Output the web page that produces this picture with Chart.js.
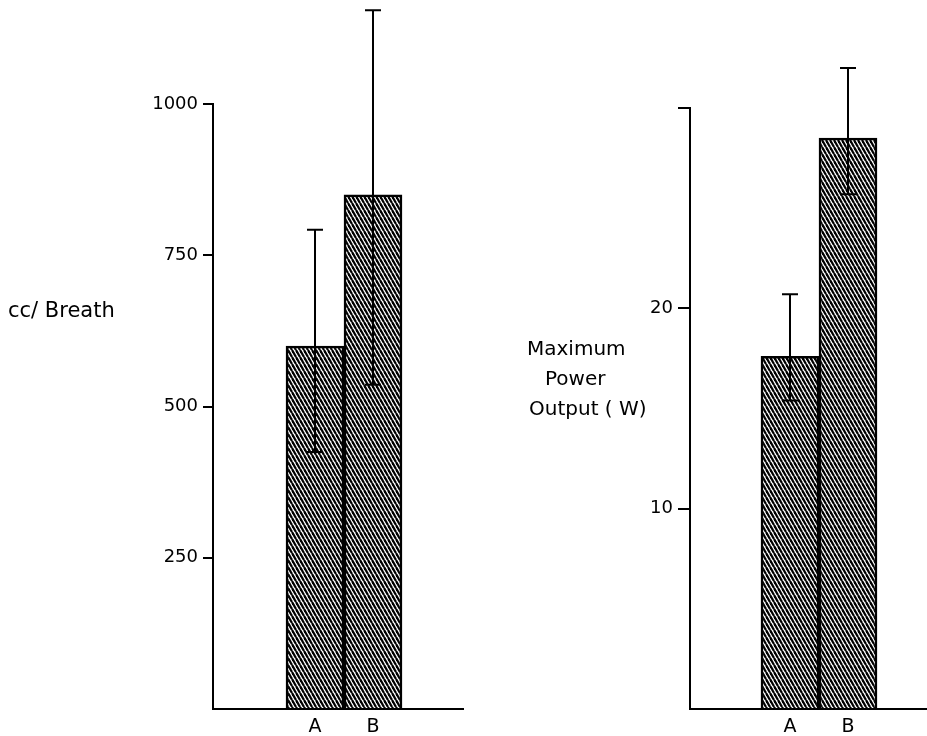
<!DOCTYPE html>
<html>
<head>
<meta charset="utf-8">
<script src="https://cdn.jsdelivr.net/npm/chart.js@4/dist/chart.umd.min.js"></script>
<style>
  html, body { margin: 0; padding: 0; background: #fff; }
  #wrap { position: relative; width: 927px; height: 736px; }
  .box { position: absolute; top: 0; height: 736px; }
  #left { left: 0; width: 470px; }
  #right { left: 470px; width: 457px; }
</style>
</head>
<body>
<div id="wrap">
  <div class="box" id="left"><canvas id="breathChart"></canvas></div>
  <div class="box" id="right"><canvas id="powerChart"></canvas></div>
</div>
<script>
// groups on the x axis
const categories = ["A", "B"];

// left panel: tidal volume, cc per breath
const breathMeans = [600, 850];
const breathHigh = [792, 1155];
const breathLow = [425, 536];
const breathTicks = [250, 500, 750, 1000];

// right panel: maximum power output, W
const powerMeans = [17.6, 28.5];
const powerHigh = [20.7, 32.0];
const powerLow = [15.4, 25.7];
const powerTicks = [10, 20];

const FONT = "DejaVu Sans";
const INK = "#000";

// diagonal hatch like the original print
function makeHatch() {
  const w = 4, h = 7;
  const c = document.createElement("canvas");
  c.width = w;
  c.height = h;
  const g = c.getContext("2d");
  g.fillStyle = "#fff";
  g.fillRect(0, 0, w, h);
  g.strokeStyle = "#000";
  g.lineWidth = 2.3;
  [-w, 0, w].forEach((dx) => {
    g.beginPath();
    g.moveTo(dx, 0);
    g.lineTo(dx + w, h);
    g.stroke();
  });
  return g.createPattern(c, "repeat");
}

// draws the error bars from the high / low arrays
const errorBars = {
  id: "errorBars",
  afterDatasetsDraw(chart, args, opts) {
    const ctx = chart.ctx;
    const meta = chart.getDatasetMeta(0);
    const y = chart.scales.y;
    ctx.save();
    ctx.strokeStyle = INK;
    ctx.lineWidth = 2;
    meta.data.forEach((bar, i) => {
      const x = bar.x;
      const top = y.getPixelForValue(opts.high[i]);
      const bot = y.getPixelForValue(opts.low[i]);
      ctx.beginPath();
      ctx.moveTo(x, top);
      ctx.lineTo(x, bot);
      ctx.moveTo(x - 8, top);
      ctx.lineTo(x + 8, top);
      ctx.moveTo(x - 8, bot);
      ctx.lineTo(x + 8, bot);
      ctx.stroke();
    });
    ctx.restore();
  },
};

// horizontal axis titles, placed left of the y axis
const sideTitle = {
  id: "sideTitle",
  afterDraw(chart, args, opts) {
    const ctx = chart.ctx;
    ctx.save();
    ctx.fillStyle = INK;
    ctx.font = opts.size + "px '" + FONT + "'";
    ctx.textAlign = "left";
    ctx.textBaseline = "middle";
    opts.lines.forEach((l) => ctx.fillText(l.text, l.x, l.y));
    ctx.restore();
  },
};

function buildChart(el, cfg) {
  const hatch = makeHatch();
  return new Chart(el, {
    type: "bar",
    data: {
      datasets: [
        {
          data: cfg.means.map((v, i) => ({ x: i + 1, y: v })),
          backgroundColor: hatch,
          borderColor: INK,
          borderWidth: 2.5,
          barPercentage: 1,
          categoryPercentage: 1,
        },
      ],
    },
    options: {
      responsive: true,
      maintainAspectRatio: false,
      animation: false,
      events: [],
      layout: { padding: { top: cfg.top, right: cfg.right, bottom: 0, left: 0 } },
      plugins: {
        legend: { display: false },
        tooltip: { enabled: false },
        errorBars: { high: cfg.high, low: cfg.low },
        sideTitle: { lines: cfg.titles, size: cfg.titleSize },
      },
      scales: {
        x: {
          type: "linear",
          offset: false,
          min: cfg.xMin,
          max: cfg.xMax,
          grid: { display: false, drawTicks: false },
          border: { display: true, color: INK, width: 2 },
          afterFit: (s) => { s.height = 27; },
          // one tick per group, so bars fill the group width
          afterBuildTicks: (s) => { s.ticks = categories.map((c, i) => ({ value: i + 1 })); },
          ticks: {
            autoSkip: false,
            maxRotation: 0,
            padding: 7,
            color: INK,
            font: { family: FONT, size: 19 },
            callback: (v) => categories[Math.round(v) - 1] || "",
          },
        },
        y: {
          min: 0,
          max: cfg.yMax,
          grid: {
            drawOnChartArea: false,
            drawTicks: true,
            tickLength: cfg.tickLen,
            lineWidth: 2,
            color: (c) => (c.tick && c.tick.value === 0 ? "rgba(0,0,0,0)" : INK),
          },
          border: { display: true, color: INK, width: 2 },
          afterFit: (s) => { s.width = cfg.axisWidth; },
          ticks: {
            stepSize: cfg.step,
            padding: 5,
            color: INK,
            font: { family: FONT, size: 18 },
            callback: (v) => (cfg.labels.includes(v) ? String(v) : ""),
          },
        },
      },
    },
    plugins: [errorBars, sideTitle],
  });
}

buildChart(document.getElementById("breathChart"), {
  means: breathMeans,
  high: breathHigh,
  low: breathLow,
  labels: breathTicks,
  yMax: 1000,
  step: 250,
  xMin: -0.759,
  xMax: 3.552,
  top: 104,
  right: 7,
  axisWidth: 213,
  tickLen: 10,
  titleSize: 21,
  titles: [{ text: "cc/ Breath", x: 8, y: 312 }],
});

buildChart(document.getElementById("powerChart"), {
  means: powerMeans,
  high: powerHigh,
  low: powerLow,
  labels: powerTicks,
  yMax: 30,
  step: 10,
  xMin: -0.724,
  xMax: 3.362,
  top: 108,
  right: 0,
  axisWidth: 220,
  tickLen: 12,
  titleSize: 20,
  titles: [
    { text: "Maximum", x: 57, y: 350 },
    { text: "Power", x: 75, y: 380 },
    { text: "Output ( W)", x: 59, y: 410 },
  ],
});
</script>
</body>
</html>
